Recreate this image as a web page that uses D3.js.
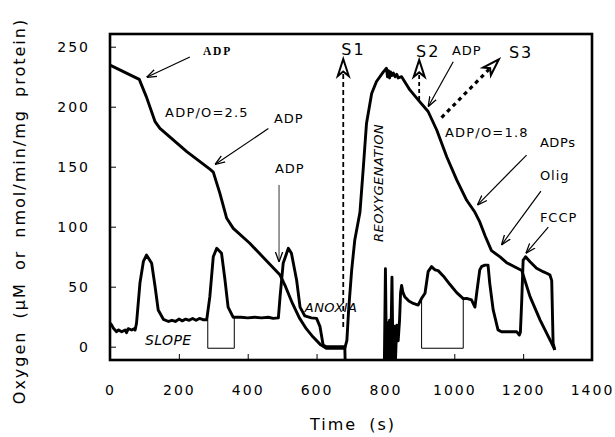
<!DOCTYPE html>
<html>
<head>
<meta charset="utf-8">
<script src="https://cdn.jsdelivr.net/npm/d3@7"></script>
<style>
  body { margin: 0; background: #fff; }
  text { font-family: "DejaVu Sans", sans-serif; fill: #000; }
</style>
</head>
<body>
<div id="chart"></div>
<script>
// oxygen concentration trace (s, uM)
const o2Time = [0, 85, 106, 131, 145, 223, 290, 300, 319, 339, 358, 406, 494, 510, 530, 550, 570, 590, 612, 628, 682,
  688, 693, 702, 711, 726, 736, 745, 760, 774, 794, 803, 806, 809, 812, 815, 819, 823, 828, 833, 837, 847, 871, 900, 924,
  949, 978, 1007, 1036, 1060, 1074, 1090, 1108, 1132, 1152, 1196, 1220, 1249, 1283, 1292];
const o2Value = [234.7, 222.8, 208, 187.5, 182, 162.5, 148, 145.5, 128, 107, 98.6, 86.2, 59.7, 50, 36, 24, 15, 8, 1.5, -1.3, -1.3,
  5, 30, 64, 89, 112, 150, 186, 211, 221, 229, 232, 225, 230, 224, 229, 226, 228, 225, 227, 224, 225, 214, 204, 196,
  180.6, 158.3, 139, 122, 112, 104, 92, 80, 75, 70, 63.5, 41.7, 22.3, 2.8, -2.7];

// respiration rate trace (s, nmol/min/mg); null = off scale gap
const rateTime = [0, 5, 10, 19, 24, 34, 44, 48, 53, 63, 70, 73, 77, 87, 97, 106, 121, 131, 140, 155, 170, 180, 190, 200,
  210, 220, 230, 240, 250, 260, 270, 281, 290, 300, 310, 324, 334, 343, 358, 380, 400, 420, 440, 460, 474, 489, 494, 503,
  518, 527, 542, 552, 566, 585, 600, 610, 619, 629, 682, 683, 740,
  797, 800, 803, 806, 809, 812, 815, 819, 822, 826, 829, 833, 837, 841, 844, 847, 851, 856, 868, 881, 895, 905, 915, 924,
  934, 944, 953, 968, 987, 1007, 1026, 1036, 1050, 1060, 1065, 1074, 1080, 1089, 1098, 1103, 1113, 1127, 1137, 1160,
  1181, 1189, 1192, 1196, 1200, 1207, 1220, 1239, 1258, 1270, 1278, 1283, 1287, 1292];
const rateValue = [19.5, 18, 15.3, 12.5, 14, 12.5, 13.9, 11.7, 15, 13.9, 15, 13.9, 19.5, 53, 71, 76.4, 69.5, 50, 30.6, 22.8, 21, 22, 21, 23,
  21.5, 23, 22, 23.5, 22, 23.5, 22.5, 22.5, 41.7, 75, 82, 77.8, 55.6, 33, 24.5, 24.5, 24, 24.5, 24, 24.5, 23.6, 24, 41.7, 69.5,
  82, 77.8, 55.6, 33, 25.6, 24, 23.6, 16.7, 1.4, 0, 0, -12, null,
  -12, 65, -12, 20, -12, 22, -12, 58, -12, 17, -12, 18, 5, 22, 45, 51, 45, 41.7, 38, 36, 34.7, 40.3, 44.5, 62.5,
  66.7, 64, 63.4, 59, 52, 45, 40, 40.3, 39, 33, 44.5, 64, 67, 68, 68, 52.8, 30.6, 14, 12.5, 12.5,
  12.5, 9.7, 12, 39, 72, 75, 70.8, 65.3, 62.5, 61, 59.7, 55, 3, -2.7];

// slope measuring boxes
const boxStart = [284, 905];
const boxEnd = [361, 1026];
const boxLeftTop = [22, 40];
const boxRightTop = [25, 40];
const boxBase = -1.3;

const xTicks = [0, 200, 400, 600, 800, 1000, 1200, 1400];
const yTicks = [0, 50, 100, 150, 200, 250];

const svgWidth = 615;
const svgHeight = 437;
const margin = { top: 34, right: 23, bottom: 77, left: 110 };
const width = svgWidth - margin.left - margin.right;
const height = svgHeight - margin.top - margin.bottom;

const svg = d3.select("#chart").append("svg")
  .attr("width", svgWidth)
  .attr("height", svgHeight);

const defs = svg.append("defs");
defs.append("clipPath").attr("id", "plot")
  .append("rect").attr("width", width).attr("height", height);
defs.append("marker")
  .attr("id", "head")
  .attr("viewBox", "0 -5 10 10")
  .attr("refX", 10).attr("refY", 0)
  .attr("markerWidth", 10).attr("markerHeight", 10)
  .attr("markerUnits", "userSpaceOnUse")
  .attr("orient", "auto")
  .append("path")
  .attr("d", "M0,-3.6L10,0L0,3.6")
  .attr("fill", "none")
  .attr("stroke", "#000")
  .attr("stroke-width", 1.3);

const chart = svg.append("g")
  .attr("transform", `translate(${margin.left}, ${margin.top})`);

const x = d3.scaleLinear().domain([0, 1400]).range([0, width]);
const y = d3.scaleLinear().domain([-11.1, 260.6]).range([height, 0]);

// axes with inward ticks
const xAxis = chart.append("g")
  .attr("transform", `translate(0, ${height})`)
  .call(d3.axisBottom(x).tickValues(xTicks).tickFormat(d3.format("d"))
    .tickSizeInner(-6).tickSizeOuter(0).tickPadding(25));
const yAxis = chart.append("g")
  .call(d3.axisLeft(y).tickValues(yTicks).tickSizeInner(-6).tickSizeOuter(0).tickPadding(20));
[xAxis, yAxis].forEach(a => {
  a.select(".domain").remove();
  a.selectAll("line").attr("stroke", "#000").attr("stroke-width", 1);
  a.selectAll("text")
    .style("font-family", "DejaVu Sans")
    .style("font-size", "14px")
    .style("letter-spacing", "2px");
});

// traces
const traces = chart.append("g").attr("clip-path", "url(#plot)");
const line = d3.line()
  .defined(d => d[1] != null)
  .x(d => x(d[0]))
  .y(d => y(d[1]));

traces.append("path")
  .datum(rateTime.map((t, i) => [t, rateValue[i]]))
  .attr("d", line)
  .attr("fill", "none")
  .attr("stroke", "#000")
  .attr("stroke-width", 2.9)
  .attr("stroke-linejoin", "round");

traces.append("path")
  .datum(o2Time.map((t, i) => [t, o2Value[i]]))
  .attr("d", line)
  .attr("fill", "none")
  .attr("stroke", "#000")
  .attr("stroke-width", 2.9)
  .attr("stroke-linejoin", "round");

boxStart.forEach((t, i) => {
  chart.append("path")
    .attr("d", `M${x(t)},${y(boxLeftTop[i])}V${y(boxBase)}H${x(boxEnd[i])}V${y(boxRightTop[i])}`)
    .attr("fill", "none")
    .attr("stroke", "#000")
    .attr("stroke-width", 1);
});

// frame
chart.append("rect")
  .attr("width", width)
  .attr("height", height)
  .attr("fill", "none")
  .attr("stroke", "#000")
  .attr("stroke-width", 2.6);

// thin arrows [fromT, fromV, toT, toV]
const arrows = [
  [232, 241.4, 106.6, 224.5],
  [460, 181.8, 305, 151.8],
  [491, 134.8, 491, 70.6],
  [997, 237.5, 924, 200],
  [1210, 159.7, 1067, 118],
  [1251.6, 129.7, 1137, 84.7],
  [1273, 99.7, 1208, 77.8]
];
arrows.forEach(a => {
  chart.append("line")
    .attr("x1", x(a[0])).attr("y1", y(a[1]))
    .attr("x2", x(a[2])).attr("y2", y(a[3]))
    .attr("stroke", "#000")
    .attr("stroke-width", a[0] === a[2] ? 0.8 : 1.2)
    .attr("marker-end", "url(#head)");
});

// S1, S2, S3 open-head arrows
function openArrow(t0, v0, t1, v1, dash, sw) {
  const x0 = x(t0), y0 = y(v0), x1 = x(t1), y1 = y(v1);
  const len = Math.hypot(x1 - x0, y1 - y0);
  const ux = (x1 - x0) / len, uy = (y1 - y0) / len;
  chart.append("line")
    .attr("x1", x0).attr("y1", y0)
    .attr("x2", x1 - ux * 14).attr("y2", y1 - uy * 14)
    .attr("stroke", "#000")
    .attr("stroke-width", sw)
    .attr("stroke-dasharray", dash);
  const ang = Math.atan2(ux, -uy) * 180 / Math.PI;
  chart.append("path")
    .attr("d", "M0,0L5.5,17L0,12.5L-5.5,17Z")
    .attr("transform", `translate(${x1},${y1}) rotate(${ang})`)
    .attr("fill", "#fff")
    .attr("stroke", "#000")
    .attr("stroke-width", 2)
    .attr("stroke-linejoin", "miter");
}
openArrow(677.5, 16.4, 677.5, 239.8, "5,3", 1.8);
openArrow(898, 205.6, 898, 239, "4,3", 1.8);
openArrow(963, 191, 1129.6, 239.5, "4,4", 3.2);

// labels [text, t, v, size, letterSpacing, style]
const notes = [
  ["ADP/O=2.5", 160, 191.4, 13, 1.2, ""],
  ["ADP", 476, 186.4, 13, 1, ""],
  ["ADP", 479, 144.8, 13, 1, ""],
  ["S1", 672, 243, 16, 2, ""],
  ["S2", 889, 241.4, 16, 2, ""],
  ["ADP", 993, 243, 13, 1, ""],
  ["S3", 1158.6, 240.6, 16, 2, ""],
  ["ADP/O=1.8", 973, 174.7, 13, 1.2, ""],
  ["ADPs", 1248.6, 166.4, 13, 0.6, ""],
  ["Olig", 1248.6, 139, 13, 1, ""],
  ["FCCP", 1248.6, 104, 13, 1, ""],
  ["ANOXIA", 566, 29, 13, 0.4, "italic"],
  ["SLOPE", 101.6, 1.4, 14, 0.4, "italic"]
];
notes.forEach(n => {
  chart.append("text")
    .attr("x", x(n[1]))
    .attr("y", y(n[2]))
    .style("font-size", n[3] + "px")
    .style("letter-spacing", n[4] + "px")
    .style("font-style", n[5] || "normal")
    .text(n[0]);
});

chart.append("text")
  .attr("x", x(270))
  .attr("y", y(243))
  .style("font-family", "Liberation Serif")
  .style("font-weight", "bold")
  .style("font-size", "11.5px")
  .style("letter-spacing", "1.8px")
  .text("ADP");

chart.append("text")
  .attr("transform", `translate(${x(792.7)},${y(87.25)}) rotate(-90)`)
  .style("font-size", "13px")
  .style("font-style", "italic")
  .style("letter-spacing", "0.5px")
  .text("REOXYGENATION");

// axis titles
svg.append("text")
  .attr("x", 353)
  .attr("y", 430)
  .attr("text-anchor", "middle")
  .style("font-size", "16px")
  .style("letter-spacing", "2px")
  .style("word-spacing", "5px")
  .text("Time (s)");

svg.append("text")
  .attr("transform", "translate(25, 211) rotate(-90)")
  .attr("text-anchor", "middle")
  .style("font-size", "16px")
  .style("letter-spacing", "2px")
  .style("word-spacing", "5px")
  .text("Oxygen (\u00b5M or nmol/min/mg protein)");
</script>
</body>
</html>
